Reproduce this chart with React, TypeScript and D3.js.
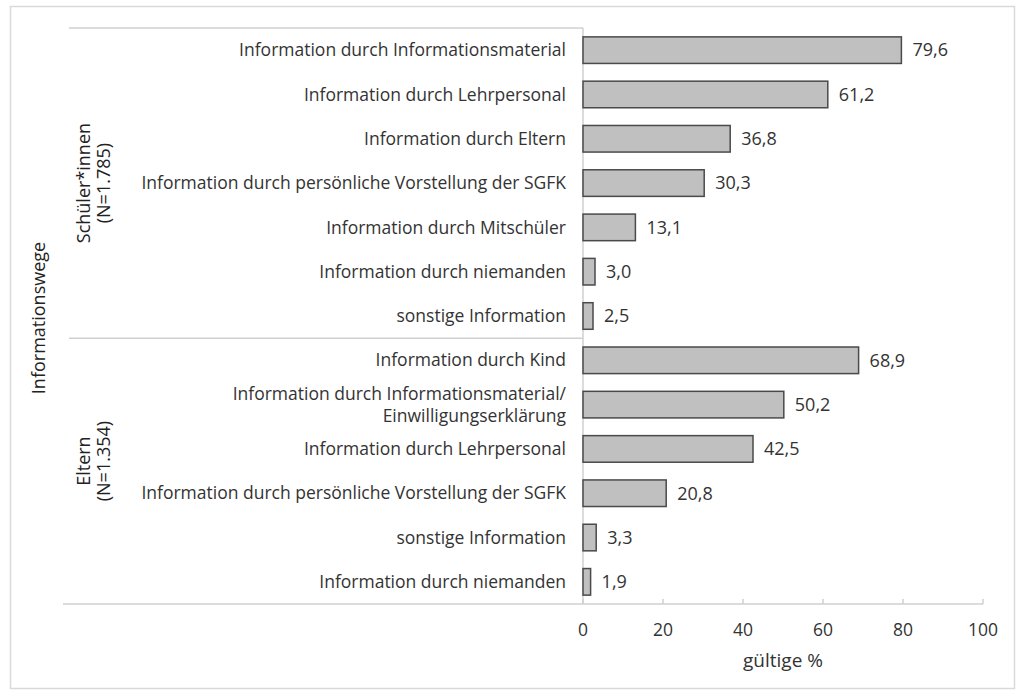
import React, { useEffect, useRef } from "react"
import * as d3 from "d3"

// Schüler*innen rows first, then Eltern rows
const studentLabels = [
  "Information durch Informationsmaterial",
  "Information durch Lehrpersonal",
  "Information durch Eltern",
  "Information durch persönliche Vorstellung der SGFK",
  "Information durch Mitschüler",
  "Information durch niemanden",
  "sonstige Information",
]
const studentValues = [79.6, 61.2, 36.8, 30.3, 13.1, 3.0, 2.5]

const parentLabels = [
  "Information durch Kind",
  "Information durch Informationsmaterial/\nEinwilligungserklärung",
  "Information durch Lehrpersonal",
  "Information durch persönliche Vorstellung der SGFK",
  "sonstige Information",
  "Information durch niemanden",
]
const parentValues = [68.9, 50.2, 42.5, 20.8, 3.3, 1.9]

const xTicks = [0, 20, 40, 60, 80, 100]

const W = 1019
const H = 691
const FONT = "'Open Sans', 'DejaVu Sans', sans-serif"
const TXT = "#333"

const App: React.FC = () => {
  const svgRef = useRef<SVGSVGElement | null>(null)

  useEffect(() => {
    const svg = d3.select(svgRef.current)
    svg.selectAll("*").remove()

    const rows = [
      ...studentLabels.map((l, i) => ({ key: "s" + i, label: l, value: studentValues[i] })),
      ...parentLabels.map((l, i) => ({ key: "p" + i, label: l, value: parentValues[i] })),
    ]

    const x = d3.scaleLinear().domain([0, 100]).range([583, 983])
    const y = d3
      .scaleBand<string>()
      .domain(rows.map((d) => d.key))
      .range([28, 604])
      .paddingInner(0.4)
      .paddingOuter(0.2)

    // outer frame
    svg.append("rect")
      .attr("x", 10.5).attr("y", 6.5)
      .attr("width", 1004).attr("height", 682)
      .attr("fill", "white").attr("stroke", "#d9d9d9").attr("stroke-width", 1.5)

    const lineCol = "#d0d0d0"
    // group separators
    svg.append("line").attr("x1", 69).attr("x2", x(0)).attr("y1", 28).attr("y2", 28)
      .attr("stroke", lineCol).attr("stroke-width", 1.5)
    const sepY = ((y("s6") ?? 0) + y.bandwidth() + (y("p0") ?? 0)) / 2
    svg.append("line").attr("x1", 69).attr("x2", x(0)).attr("y1", sepY).attr("y2", sepY)
      .attr("stroke", lineCol).attr("stroke-width", 1.5)

    // vertical axis line
    svg.append("line").attr("x1", x(0)).attr("x2", x(0)).attr("y1", 28).attr("y2", 604)
      .attr("stroke", lineCol).attr("stroke-width", 1.5)

    // x axis
    svg.append("line").attr("x1", 63).attr("x2", x(100)).attr("y1", 604).attr("y2", 604)
      .attr("stroke", lineCol).attr("stroke-width", 1.5)
    svg.selectAll(".tick")
      .data(xTicks)
      .enter()
      .append("line")
      .attr("x1", (d) => x(d)).attr("x2", (d) => x(d))
      .attr("y1", 599).attr("y2", 604)
      .attr("stroke", lineCol).attr("stroke-width", 1.5)
    svg.selectAll(".tickLabel")
      .data(xTicks)
      .enter()
      .append("text")
      .attr("x", (d) => x(d)).attr("y", 636)
      .attr("text-anchor", "middle")
      .attr("font-family", FONT).attr("font-size", 17.5).attr("fill", TXT)
      .text((d) => d)
    svg.append("text")
      .attr("x", 783).attr("y", 667)
      .attr("text-anchor", "middle")
      .attr("font-family", FONT).attr("font-size", 19).attr("fill", TXT)
      .text("gültige %")

    // bars
    svg.selectAll(".bar")
      .data(rows)
      .enter()
      .append("rect")
      .attr("x", x(0))
      .attr("y", (d) => y(d.key) ?? 0)
      .attr("width", (d) => x(d.value) - x(0))
      .attr("height", y.bandwidth())
      .attr("fill", "#c0c0c0")
      .attr("stroke", "#4a4a4a")
      .attr("stroke-width", 1.5)

    // value labels
    svg.selectAll(".val")
      .data(rows)
      .enter()
      .append("text")
      .attr("x", (d) => x(d.value) + 11)
      .attr("y", (d) => (y(d.key) ?? 0) + y.bandwidth() / 2)
      .attr("dy", "0.35em")
      .attr("font-family", FONT).attr("font-size", 18).attr("fill", TXT)
      .text((d) => d.value.toFixed(1).replace(".", ","))

    // category labels
    const cat = svg.selectAll(".cat")
      .data(rows)
      .enter()
      .append("text")
      .attr("text-anchor", "end")
      .attr("font-family", FONT).attr("font-size", 17.5).attr("fill", TXT)
    cat.each(function (d) {
      const lines = d.label.split("\n")
      const cy = (y(d.key) ?? 0) + y.bandwidth() / 2
      const lh = 22
      lines.forEach((ln, i) => {
        d3.select(this)
          .append("tspan")
          .attr("x", 566)
          .attr("y", cy + (i - (lines.length - 1) / 2) * lh)
          .attr("dy", "0.35em")
          .text(ln)
      })
    })

    // group labels (rotated)
    const groupLabel = (cx: number, cy: number, lines: string[]) => {
      const t = svg.append("text")
        .attr("transform", `translate(${cx},${cy}) rotate(-90)`)
        .attr("text-anchor", "middle")
        .attr("font-family", FONT).attr("font-size", 18).attr("fill", "#222")
      lines.forEach((ln, i) => {
        t.append("tspan").attr("x", 0).attr("y", i * 20).text(ln)
      })
    }
    const sTop = y("s0") ?? 0
    const sBot = (y("s6") ?? 0) + y.bandwidth()
    const pTop = y("p0") ?? 0
    const pBot = (y("p5") ?? 0) + y.bandwidth()
    groupLabel(90, (sTop + sBot) / 2, ["Schüler*innen", "(N=1.785)"])
    groupLabel(90, (pTop + pBot) / 2 - 10, ["Eltern", "(N=1.354)"])
    groupLabel(45, 318, ["Informationswege"])
  }, [])

  return (
    <svg
      ref={svgRef}
      width={W}
      height={H}
      style={{ position: "absolute", left: 0, top: 0, background: "white" }}
    />
  )
}

export default App
